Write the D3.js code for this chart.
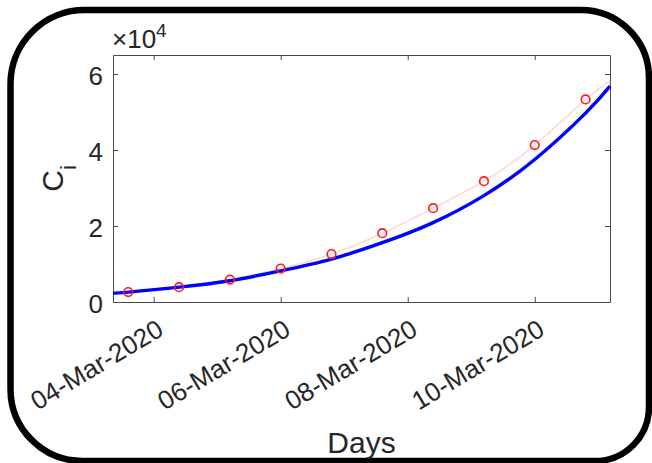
<!DOCTYPE html>
<html>
<head>
<meta charset="utf-8">
<script src="https://cdn.jsdelivr.net/npm/d3@7"></script>
<style>
  html, body { margin: 0; padding: 0; background: #fff; }
  svg { display: block; }
  text { font-family: "Liberation Sans", Arial, Helvetica, sans-serif; fill: #262626; }
</style>
</head>
<body>
<svg id="chart" width="652" height="463"></svg>
<script>
// Observed cumulative cases
const obsDates = ["2020-03-03T14:24", "2020-03-04T09:36", "2020-03-05T04:48", "2020-03-06T00:00",
                  "2020-03-06T19:12", "2020-03-07T14:24", "2020-03-08T09:36", "2020-03-09T04:48",
                  "2020-03-10T00:00", "2020-03-10T19:12"];
const observed = [2600, 3900, 5900, 8800, 12600, 18100, 24700, 31800, 41300, 53300];

// Faint trend through the observations
const trendDates = ["2020-03-03T08:38", ...obsDates, "2020-03-11T04:26"];
const trend = [2400, 2600, 3900, 5900, 8800, 12600, 18100, 24700, 31800, 41300, 53300, 58200];

// Model curve
const modelDates = ["2020-03-03T08:38", ...obsDates, "2020-03-11T04:26"];
const model = [2300, 2600, 3900, 5600, 8200, 11300, 15600, 20900, 28000, 37500, 49700, 56800];

// Axis ticks
const xTickDates = ["2020-03-04T00:00", "2020-03-06T00:00", "2020-03-08T00:00", "2020-03-10T00:00"];
const yTicks = [0, 20000, 40000, 60000];
const xDomain = ["2020-03-03T08:38", "2020-03-11T04:26"];
const yDomain = [0, 65000];

const parse = d3.timeParse("%Y-%m-%dT%H:%M");
const svg = d3.select("#chart");

const box = { left: 113, right: 610, top: 55, bottom: 302 };

const x = d3.scaleTime().domain(xDomain.map(parse)).range([box.left, box.right]);
const y = d3.scaleLinear().domain(yDomain).range([box.bottom, box.top]);

// Rounded outer frame
function roundedFrame(x0, y0, x1, y1, rTL, rTR, rBR, rBL) {
  return `M${x0 + rTL},${y0} H${x1 - rTR} A${rTR},${rTR} 0 0 1 ${x1},${y0 + rTR}` +
         ` V${y1 - rBR} A${rBR},${rBR} 0 0 1 ${x1 - rBR},${y1}` +
         ` H${x0 + rBL} A${rBL},${rBL} 0 0 1 ${x0},${y1 - rBL}` +
         ` V${y0 + rTL} A${rTL},${rTL} 0 0 1 ${x0 + rTL},${y0} Z`;
}
svg.append("path")
  .attr("d", roundedFrame(10.5, 10, 649, 461, 74, 68, 54, 72))
  .attr("fill", "none")
  .attr("stroke", "#000")
  .attr("stroke-width", 6.5);

// Axes (ticks point inward, box mirrored on all sides)
const axisColor = "#4a4a4a";
const fmt = d3.timeFormat("%d-%b-%Y");

const gx = svg.append("g").attr("transform", `translate(0,${box.bottom})`)
  .call(d3.axisBottom(x).tickValues(xTickDates.map(parse)).tickFormat(fmt)
        .tickSizeInner(-5).tickSizeOuter(0).tickPadding(0));
const gxTop = svg.append("g").attr("transform", `translate(0,${box.top})`)
  .call(d3.axisTop(x).tickValues(xTickDates.map(parse)).tickFormat("")
        .tickSizeInner(-5).tickSizeOuter(0));
const gy = svg.append("g").attr("transform", `translate(${box.left},0)`)
  .call(d3.axisLeft(y).tickValues(yTicks).tickFormat(d => d / 1e4)
        .tickSizeInner(-5).tickSizeOuter(0).tickPadding(0));
const gyRight = svg.append("g").attr("transform", `translate(${box.right},0)`)
  .call(d3.axisRight(y).tickValues(yTicks).tickFormat("")
        .tickSizeInner(-5).tickSizeOuter(0));

[gx, gxTop, gy, gyRight].forEach(g => {
  g.select(".domain").attr("stroke", axisColor).attr("stroke-width", 1);
  g.selectAll(".tick line").attr("stroke", axisColor).attr("stroke-width", 1);
});

gx.selectAll(".tick text")
  .attr("font-size", 26)
  .attr("text-anchor", "end")
  .attr("dy", null)
  .attr("y", null)
  .attr("transform", "translate(11,32) rotate(-31)");

gy.selectAll(".tick text")
  .attr("font-size", 26)
  .attr("x", -10)
  .attr("dy", "0.42em");

// Exponent label
const expo = svg.append("text").attr("x", 112).attr("y", 48).attr("font-size", 26);
expo.append("tspan").text("\u00d710");
expo.append("tspan").attr("font-size", 19).attr("dy", -11).text("4");

// Axis labels
svg.append("text")
  .attr("x", (box.left + box.right) / 2).attr("y", 453)
  .attr("text-anchor", "middle").attr("font-size", 30)
  .text("Days");

const yl = svg.append("text")
  .attr("transform", `translate(63,${(box.top + box.bottom) / 2}) rotate(-90)`)
  .attr("text-anchor", "middle").attr("font-size", 30);
yl.append("tspan").text("C");
yl.append("tspan").attr("font-size", 22).attr("dy", 13).text("i");

// Data layers
const trendLine = d3.line().x((d, i) => x(parse(trendDates[i]))).y(d => y(d)).curve(d3.curveNatural);
svg.append("path").datum(trend)
  .attr("d", trendLine).attr("fill", "none")
  .attr("stroke", "#ffd6d6").attr("stroke-width", 1.5);

const modelLine = d3.line().x((d, i) => x(parse(modelDates[i]))).y(d => y(d)).curve(d3.curveNatural);
svg.append("path").datum(model)
  .attr("d", modelLine).attr("fill", "none")
  .attr("stroke", "#0000ff").attr("stroke-width", 3.4);

svg.append("g").selectAll("circle").data(observed).join("circle")
  .attr("cx", (d, i) => x(parse(obsDates[i])))
  .attr("cy", d => y(d))
  .attr("r", 4.3)
  .attr("fill", "none")
  .attr("stroke", "#ff1a1a")
  .attr("stroke-width", 1.6);
</script>
</body>
</html>
